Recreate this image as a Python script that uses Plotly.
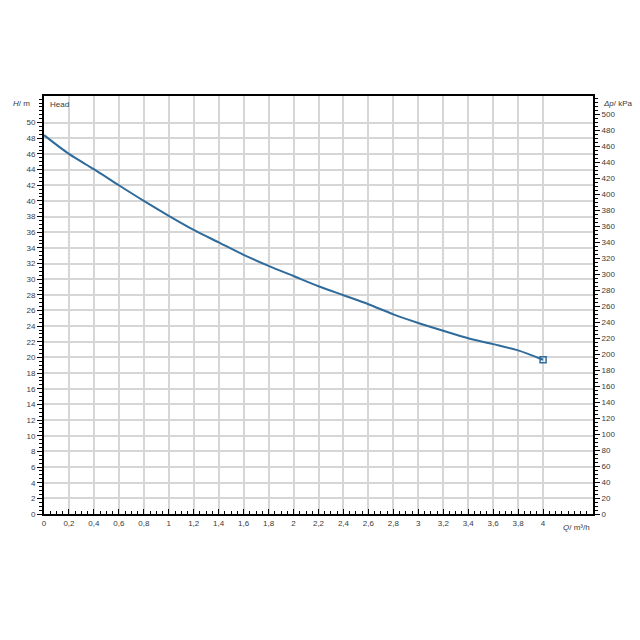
import plotly.graph_objects as go

# Data
flow_q = [0.0, 0.2, 0.4, 0.6, 0.8, 1.0, 1.2, 1.4, 1.6, 1.8, 2.0, 2.2, 2.4, 2.6, 2.8, 3.0, 3.2, 3.4, 3.6, 3.8, 4.0]
head_h = [48.4, 46.0, 44.05, 42.0, 40.0, 38.1, 36.3, 34.7, 33.1, 31.7, 30.4, 29.1, 27.95, 26.8, 25.5, 24.4, 23.4, 22.45, 21.7, 20.9, 19.7]

x_tickvals = [round(0.2 * i, 1) for i in range(21)]
x_ticktext = ["0", "0,2", "0,4", "0,6", "0,8", "1", "1,2", "1,4", "1,6", "1,8", "2",
              "2,2", "2,4", "2,6", "2,8", "3", "3,2", "3,4", "3,6", "3,8", "4"]
y_tickvals = list(range(0, 52, 2))
kpa_tickvals = list(range(0, 520, 20))

KPA_PER_M = 9.79
H_MAX = 53.4
Q_MAX = 4.4

line_color = "#2f6b9b"
font = dict(family="Liberation Sans, Arial, sans-serif", size=8, color="#3a3a3a")
grid_color = "#d6d6d6"

fig = go.Figure()
fig.add_trace(go.Scatter(x=flow_q, y=head_h, mode="lines",
                         line=dict(color=line_color, width=2, shape="spline", smoothing=0.8),
                         hoverinfo="skip", showlegend=False))
fig.add_trace(go.Scatter(x=[flow_q[-1]], y=[head_h[-1]], mode="markers",
                         marker=dict(symbol="square-open", size=6, color=line_color,
                                     line=dict(width=1.5, color=line_color)),
                         hoverinfo="skip", showlegend=False))
# invisible trace to display the kPa axis
fig.add_trace(go.Scatter(x=[flow_q[0]], y=[head_h[0] * KPA_PER_M], yaxis="y2", mode="markers",
                         marker=dict(opacity=0), hoverinfo="skip", showlegend=False))

fig.update_layout(
    width=640, height=640,
    margin=dict(l=44, r=47, t=96, b=126),
    paper_bgcolor="white", plot_bgcolor="white",
    font=font,
    xaxis=dict(range=[0, Q_MAX], tickvals=x_tickvals, ticktext=x_ticktext,
               showgrid=True, gridcolor=grid_color, gridwidth=2,
               showline=True, linecolor="black", linewidth=2, mirror=True,
               ticks="inside", ticklen=5, tickcolor="black", tickwidth=1,
               minor=dict(dtick=0.05, tick0=0, ticks="inside", ticklen=3, tickcolor="black", showgrid=False),
               zeroline=False, tickfont=font),
    yaxis=dict(range=[0, H_MAX], tickvals=y_tickvals,
               showgrid=True, gridcolor=grid_color, gridwidth=2,
               showline=True, linecolor="black", linewidth=2,
               ticks="outside", ticklen=5, tickcolor="black", tickwidth=1,
               minor=dict(dtick=0.5, tick0=0, ticks="outside", ticklen=3, tickcolor="black", showgrid=False),
               zeroline=False, tickfont=font),
    yaxis2=dict(range=[0, H_MAX * KPA_PER_M], tickvals=kpa_tickvals, overlaying="y", side="right",
                showgrid=False, showline=True, linecolor="black", linewidth=2,
                ticks="outside", ticklen=5, tickcolor="black", tickwidth=1,
                minor=dict(dtick=5, tick0=0, ticks="outside", ticklen=3, tickcolor="black"),
                zeroline=False, tickfont=font),
    annotations=[
        dict(text="<i>H</i>/ m", xref="paper", yref="paper", x=0, y=1, xshift=-12, yshift=-7,
             xanchor="right", yanchor="middle", showarrow=False, font=font),
        dict(text="Head", xref="paper", yref="paper", x=0, y=1, xshift=4, yshift=-8,
             xanchor="left", yanchor="middle", showarrow=False, font=font),
        dict(text="<i>Δp</i>/ kPa", xref="paper", yref="paper", x=1, y=1, xshift=8, yshift=-7,
             xanchor="left", yanchor="middle", showarrow=False, font=font),
        dict(text="<i>Q</i>/ m³/h", xref="x", yref="paper", x=4.27, y=0, yshift=-13,
             xanchor="center", yanchor="middle", showarrow=False, font=font),
    ],
)

fig.write_html("out.html")
